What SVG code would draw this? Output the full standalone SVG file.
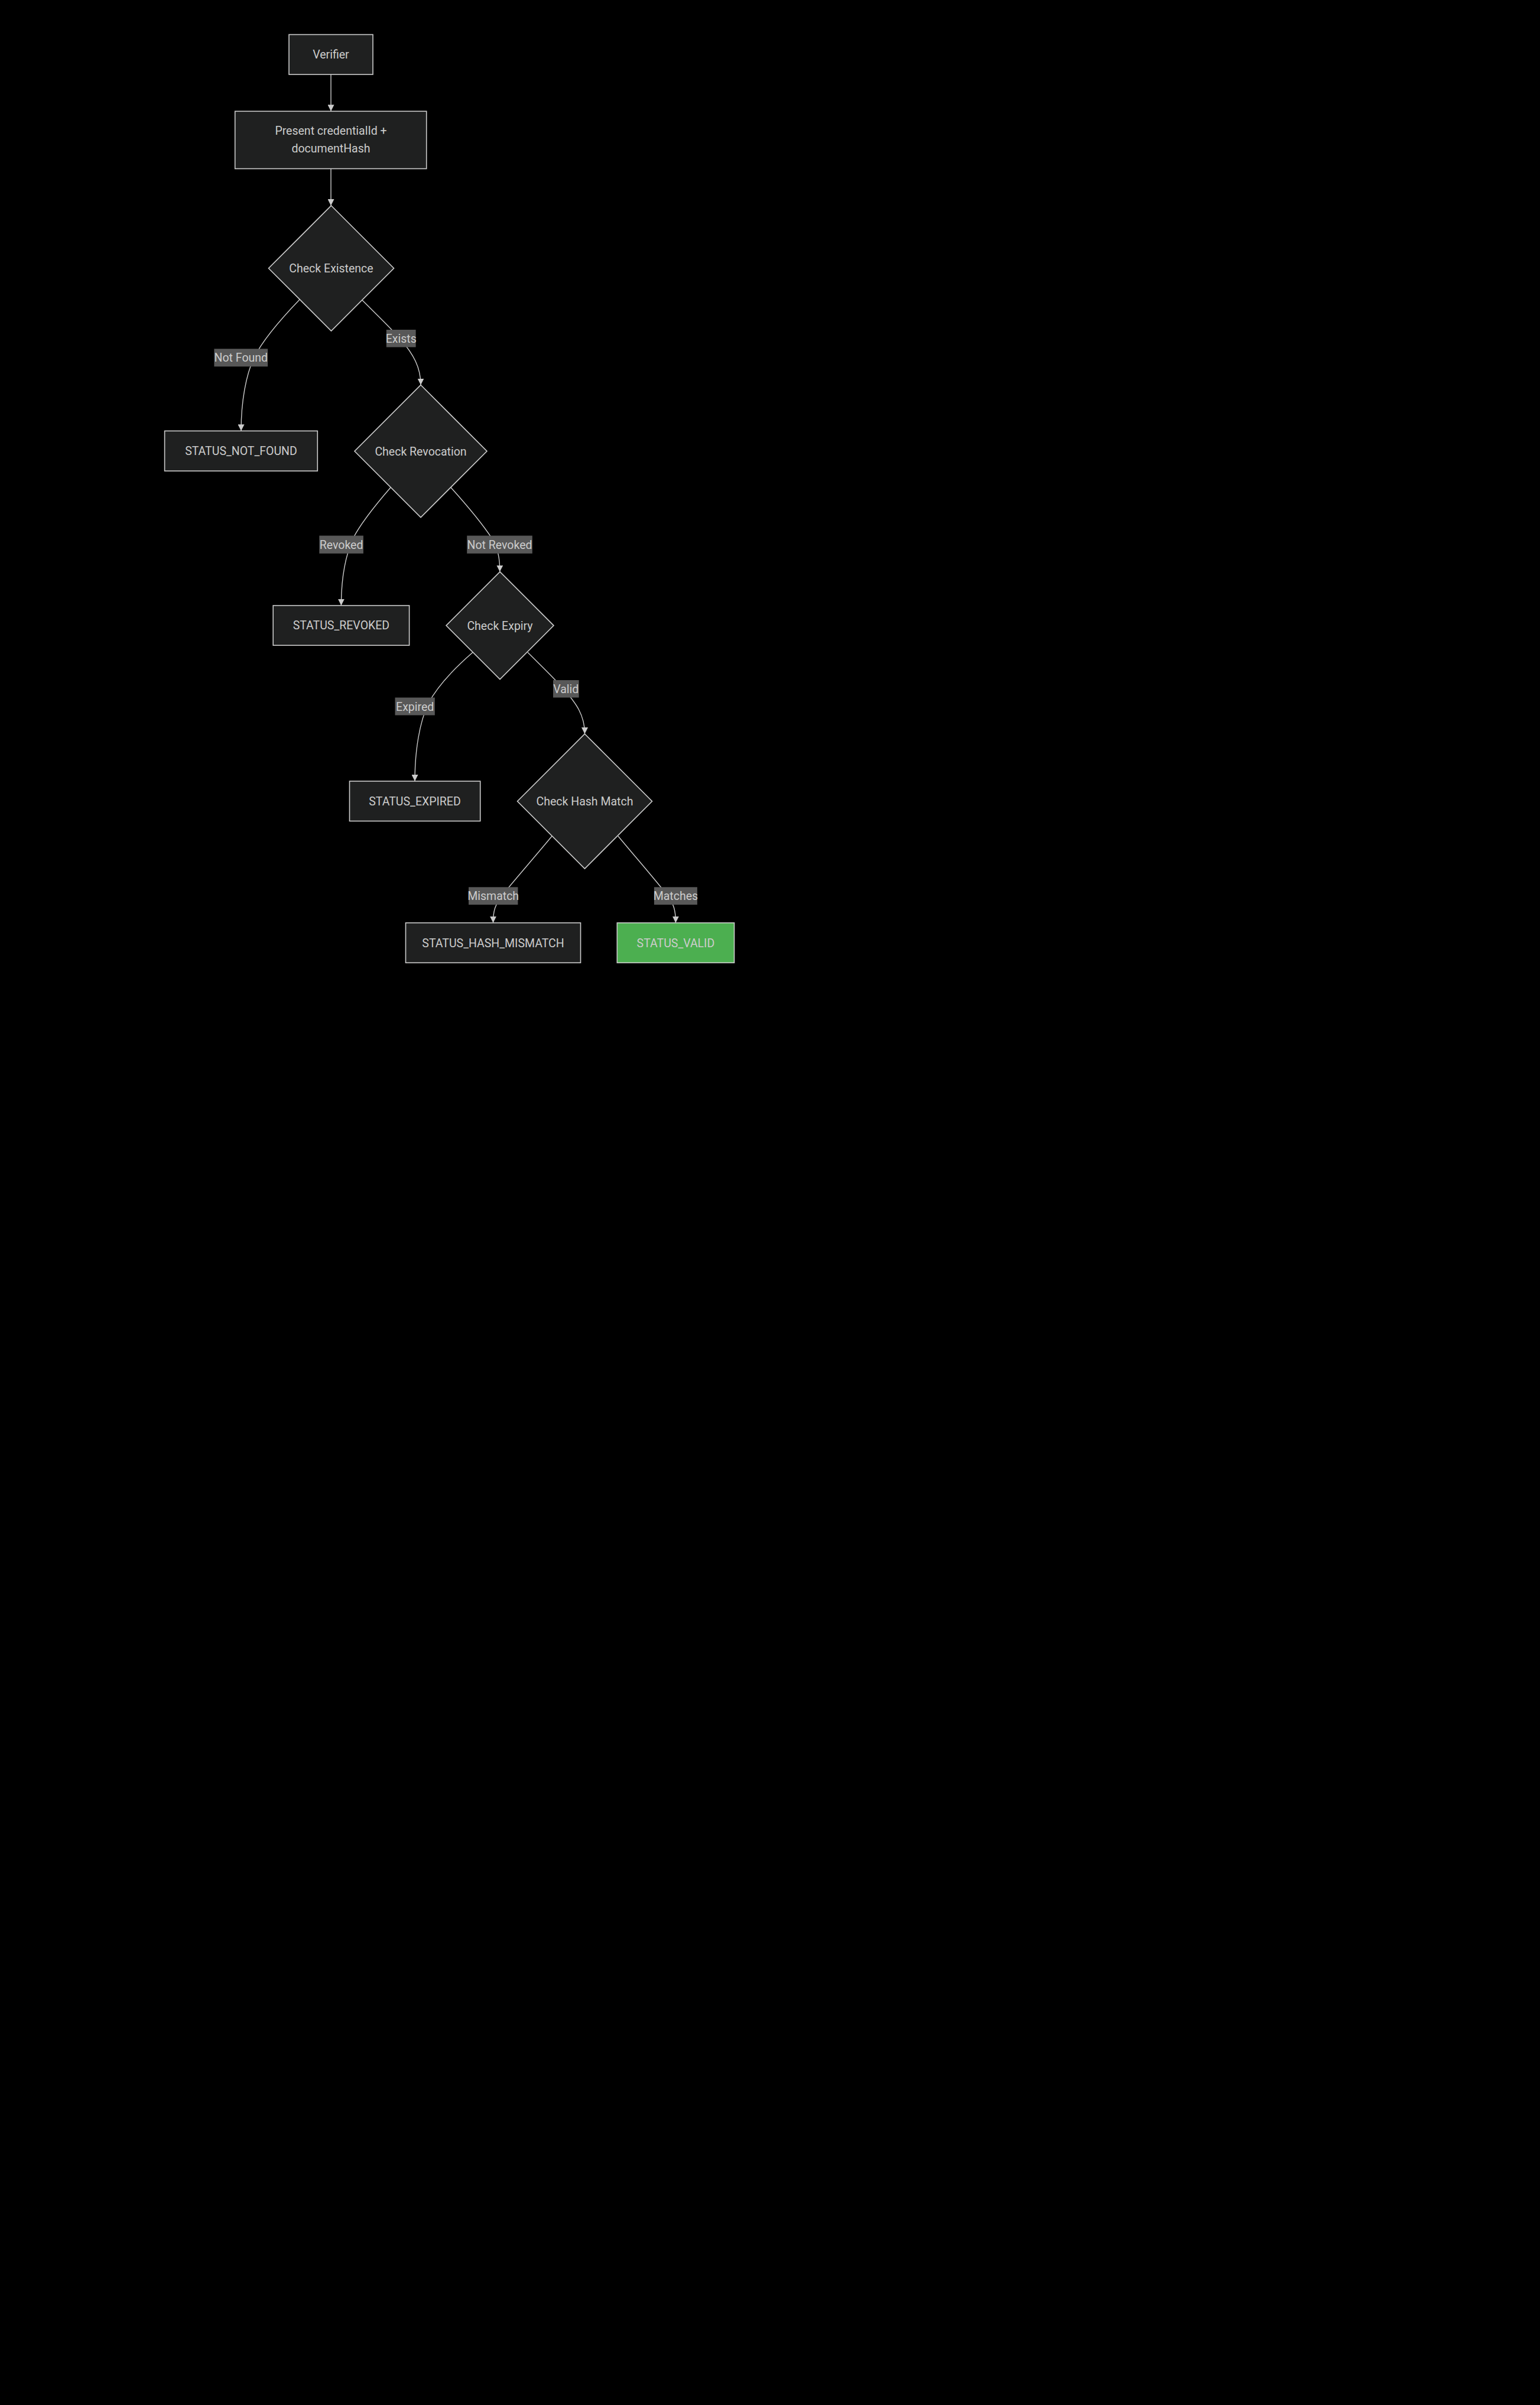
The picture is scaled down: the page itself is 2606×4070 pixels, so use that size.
<svg xmlns="http://www.w3.org/2000/svg" width="2606" height="4070" viewBox="0 0 2606 4070">
  <style>
    .node rect, .node polygon { fill: #1f2020; stroke: #cccccc; stroke-width: 1.6; }
    .node.valid rect { fill: #4caf50; }
    .node text { font-family: Roboto, "Liberation Sans", sans-serif; font-size: 19.5px; fill: #cccccc; text-anchor: middle; }
    .edge { fill: none; stroke: #cccccc; stroke-width: 1.4; marker-end: url(#arrow); }
    .elabel rect { fill: #585858; }
    .elabel text { font-family: Roboto, "Liberation Sans", sans-serif; font-size: 19.5px; fill: #cccccc; text-anchor: middle; }
  </style>
  <defs>
    <marker id="arrow" viewBox="0 0 10 10" refX="10" refY="5" markerUnits="userSpaceOnUse" markerWidth="11" markerHeight="11" orient="auto">
      <path d="M0,0 L10,5 L0,10 z" fill="#cccccc"/>
    </marker>
  </defs>
  <rect x="0" y="0" width="2606" height="4070" fill="#000000"/>

  <g id="connectors">
    <path class="edge" d="M560,126 L560,188.3"/>
    <path class="edge" d="M560,285.5 L560,348"/>
    <path class="edge" d="M507,507 C480,535 446,573 430,605 C416,635 408,680 408,729.3"/>
    <path class="edge" d="M613,508 C640,535 662,556 677,573 C700,600 712,622 712,651.5"/>
    <path class="edge" d="M661,825 C635,855 610,886 597,912 C585,940 577.4,980 577.4,1024.7"/>
    <path class="edge" d="M763,825 C790,855 818,889 833,912 C843,930 845.8,945 845.8,967.6"/>
    <path class="edge" d="M800,1104 C770,1130 741,1160 725,1190 C710,1222 702,1270 702,1322"/>
    <path class="edge" d="M893,1104 C915,1126 938,1148 952,1164 C975,1190 989.5,1210 989.5,1242"/>
    <path class="edge" d="M934,1415 C905,1450 870,1490 849,1516 C838,1532 834.5,1540 834.5,1561.7"/>
    <path class="edge" d="M1046,1415 C1075,1450 1110,1490 1130,1516 C1140,1530 1143.4,1540 1143.4,1561.7"/>
  </g>

  <g id="edge-labels">
    <g class="elabel" id="label-not-found"><rect x="362.4" y="590.3" width="90.7" height="30"/><text x="407.8" y="612.3">Not Found</text></g>
    <g class="elabel" id="label-exists"><rect x="653.8" y="558" width="49.8" height="29.5"/><text x="678.7" y="579.8">Exists</text></g>
    <g class="elabel" id="label-revoked"><rect x="540.3" y="906.5" width="74.6" height="30.2"/><text x="577.6" y="928.6">Revoked</text></g>
    <g class="elabel" id="label-not-revoked"><rect x="790.2" y="906.5" width="110.6" height="30.2"/><text x="845.5" y="928.6">Not Revoked</text></g>
    <g class="elabel" id="label-expired"><rect x="668.5" y="1180.5" width="67.3" height="29.9"/><text x="702.2" y="1202.5">Expired</text></g>
    <g class="elabel" id="label-valid"><rect x="936" y="1151" width="43.6" height="29.5"/><text x="957.8" y="1172.8">Valid</text></g>
    <g class="elabel" id="label-mismatch"><rect x="793" y="1501.3" width="83.4" height="29.7"/><text x="834.7" y="1523.2">Mismatch</text></g>
    <g class="elabel" id="label-matches"><rect x="1106.9" y="1501.3" width="73" height="29.7"/><text x="1143.4" y="1523.2">Matches</text></g>
  </g>

  <g class="node" id="verifier"><rect x="489" y="58.5" width="142" height="67.5"/><text x="560" y="99.3">Verifier</text></g>
  <g class="node" id="present"><rect x="397.7" y="188.3" width="324" height="97.2"/><text x="560" y="228">Present credentialId +</text><text x="560" y="258.4">documentHash</text></g>
  <g class="node" id="check-existence"><polygon points="560.5,348 666.5,454 560.5,560 454.5,454"/><text x="560.5" y="461">Check Existence</text></g>
  <g class="node" id="status-not-found"><rect x="278.6" y="729.3" width="258.7" height="67.7"/><text x="408" y="770">STATUS_NOT_FOUND</text></g>
  <g class="node" id="check-revocation"><polygon points="712,651.5 824,763.5 712,875.5 600,763.5"/><text x="712" y="770.5">Check Revocation</text></g>
  <g class="node" id="status-revoked"><rect x="462.2" y="1024.7" width="230.4" height="67.4"/><text x="577.4" y="1065.4">STATUS_REVOKED</text></g>
  <g class="node" id="check-expiry"><polygon points="846,967.6 937,1058.6 846,1149.6 755,1058.6"/><text x="846" y="1065.6">Check Expiry</text></g>
  <g class="node" id="status-expired"><rect x="591.5" y="1322" width="221.2" height="67.5"/><text x="702" y="1362.8">STATUS_EXPIRED</text></g>
  <g class="node" id="check-hash-match"><polygon points="989.5,1242 1103.5,1356 989.5,1470 875.5,1356"/><text x="989.5" y="1363">Check Hash Match</text></g>
  <g class="node" id="status-hash-mismatch"><rect x="686.5" y="1561.7" width="296" height="67.6"/><text x="834.5" y="1602.5">STATUS_HASH_MISMATCH</text></g>
  <g class="node valid" id="status-valid"><rect x="1044.3" y="1561.7" width="198.2" height="67.6"/><text x="1143.4" y="1602.5">STATUS_VALID</text></g>
</svg>
